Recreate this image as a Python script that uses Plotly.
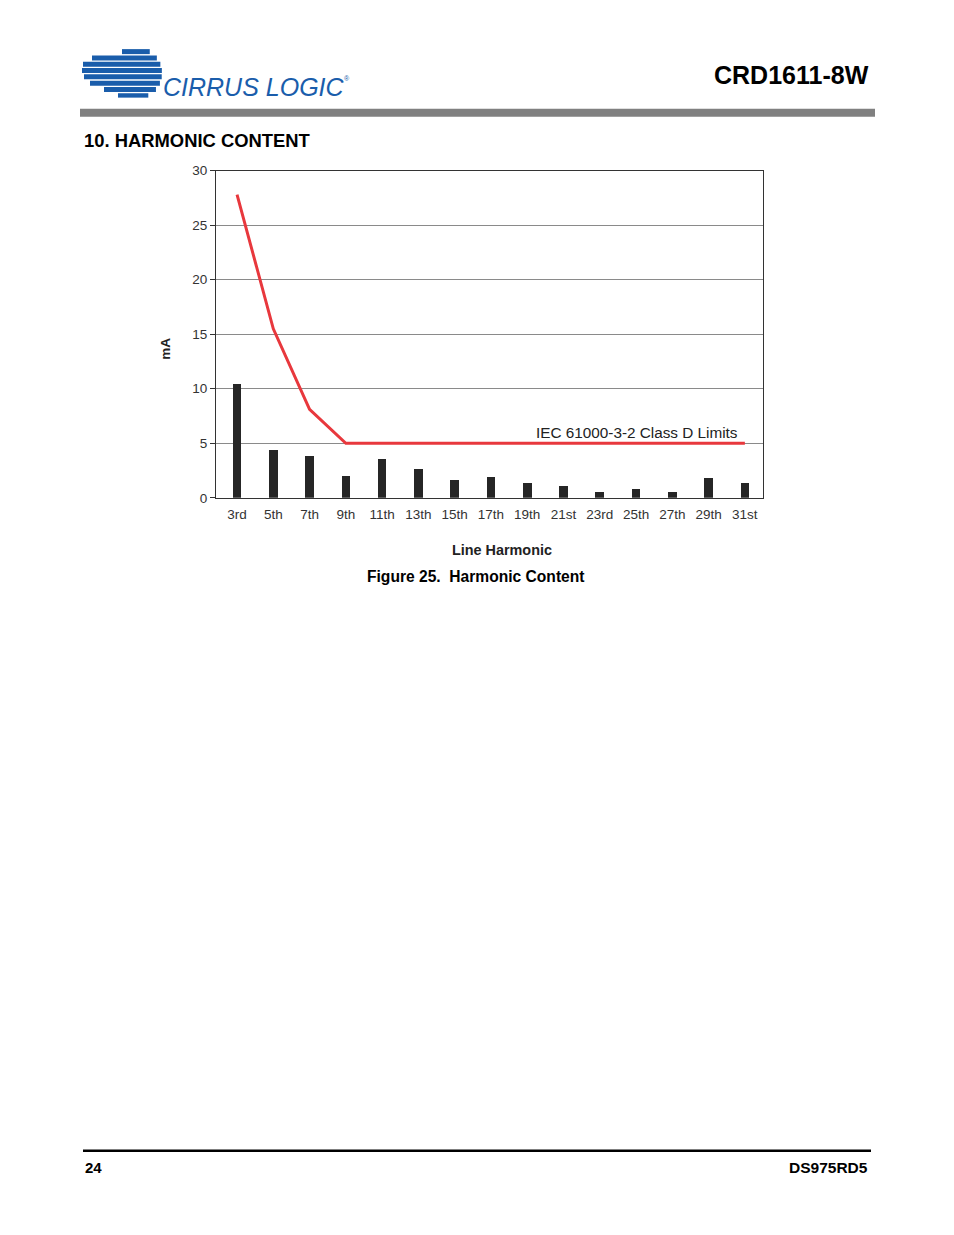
import math
import plotly.graph_objects as go

harmonics = ["3rd", "5th", "7th", "9th", "11th", "13th", "15th", "17th",
             "19th", "21st", "23rd", "25th", "27th", "29th", "31st"]
measured_ma = [10.5, 4.4, 3.85, 2.0, 3.6, 2.65, 1.65, 1.9, 1.4, 1.1, 0.6, 0.8, 0.6, 1.8, 1.4]
limit_ma = [27.8, 15.5, 8.1, 5.0, 5.0, 5.0, 5.0, 5.0, 5.0, 5.0, 5.0, 5.0, 5.0, 5.0, 5.0]
y_ticks = [0, 5, 10, 15, 20, 25, 30]

W, H = 954, 1235
FONT = "Arial, Liberation Sans, sans-serif"


def px(x):
    return x / W


def py(y):
    # small empirical correction for the vertical placement seen in the capture
    yy = (y - 6.4) / 0.9875
    return 1 - yy / H


fig = go.Figure()
fig.add_trace(go.Bar(x=harmonics, y=measured_ma, width=0.24,
                     marker=dict(color="#262626", line=dict(width=0)),
                     showlegend=False))
fig.add_trace(go.Scatter(x=harmonics, y=limit_ma, mode="lines",
                         line=dict(color="#e8383d", width=3),
                         showlegend=False))

shapes = []
# Header gray bar
shapes.append(dict(type="rect", xref="paper", yref="paper",
                   x0=px(80), x1=px(875), y0=py(116), y1=py(108),
                   fillcolor="#808080", line=dict(width=0)))
# Footer line
shapes.append(dict(type="rect", xref="paper", yref="paper",
                   x0=px(83), x1=px(871), y0=py(1151), y1=py(1148.5),
                   fillcolor="#000000", line=dict(width=0)))

# Logo (decorative): blue disc cut by thin white gaps, streaks to the left
blue = "#1a5dab"
cx, cy, r = 137.0, 72.5, 25.0
bands = [(48.5, 53.5, 122), (54.8, 59.8, 92), (61.1, 66.1, 83), (67.4, 72.4, 82),
         (73.7, 78.7, 84), (80.0, 85.0, 90), (86.3, 91.3, 104), (92.6, 97.0, 118)]
for (t, b, left) in bands:
    mid = (t + b) / 2
    dy = min(abs(mid - cy), r - 0.5)
    right = cx + math.sqrt(r * r - dy * dy)
    shapes.append(dict(type="rect", xref="paper", yref="paper",
                       x0=px(left), x1=px(right), y0=py(b), y1=py(t),
                       fillcolor=blue, line=dict(width=0)))

annotations = [
    dict(text="<i>CIRRUS LOGIC</i>", x=px(161), y=py(86), xref="paper", yref="paper",
         xanchor="left", yanchor="middle", showarrow=False,
         font=dict(family=FONT, size=25, color=blue)),
    dict(text="®", x=px(342), y=py(78), xref="paper", yref="paper",
         xanchor="left", yanchor="middle", showarrow=False,
         font=dict(family=FONT, size=7, color=blue)),
    dict(text="<b>CRD1611-8W</b>", x=px(871), y=py(74), xref="paper", yref="paper",
         xanchor="right", yanchor="middle", showarrow=False,
         font=dict(family=FONT, size=25, color="#000")),
    dict(text="<b>10. HARMONIC CONTENT</b>", x=px(82), y=py(140), xref="paper", yref="paper",
         xanchor="left", yanchor="middle", showarrow=False,
         font=dict(family=FONT, size=18.4, color="#000")),
    dict(text="<b>mA</b>", x=px(166), y=py(348), xref="paper", yref="paper",
         xanchor="center", yanchor="middle", showarrow=False, textangle=-90,
         font=dict(family=FONT, size=13.5, color="#222")),
    dict(text="<b>Line Harmonic</b>", x=px(502), y=py(549), xref="paper", yref="paper",
         xanchor="center", yanchor="middle", showarrow=False,
         font=dict(family=FONT, size=14.4, color="#222")),
    dict(text="<b>Figure 25.  Harmonic Content</b>", x=px(475), y=py(576), xref="paper", yref="paper",
         xanchor="center", yanchor="middle", showarrow=False,
         font=dict(family=FONT, size=15.6, color="#000")),
    dict(text="IEC 61000-3-2 Class D Limits", x=px(740), y=py(432), xref="paper", yref="paper",
         xanchor="right", yanchor="middle", showarrow=False,
         font=dict(family=FONT, size=15.3, color="#222")),
    dict(text="<b>24</b>", x=px(83), y=py(1166), xref="paper", yref="paper",
         xanchor="left", yanchor="middle", showarrow=False,
         font=dict(family=FONT, size=15, color="#000")),
    dict(text="<b>DS975RD5</b>", x=px(870), y=py(1166), xref="paper", yref="paper",
         xanchor="right", yanchor="middle", showarrow=False,
         font=dict(family=FONT, size=15.5, color="#000")),
]

fig.update_layout(
    width=W, height=H,
    margin=dict(l=0, r=0, t=0, b=0),
    paper_bgcolor="white", plot_bgcolor="white",
    font=dict(family=FONT, size=13, color="#333"),
    shapes=shapes, annotations=annotations,
    bargap=0,
    xaxis=dict(domain=[px(216), px(763)], type="category", range=[-0.58, 14.5],
               showline=True, linecolor="#333", linewidth=1, mirror=True,
               ticks="", showgrid=False, tickfont=dict(size=13.5, color="#333"),
               ticklabelstandoff=4),
    yaxis=dict(domain=[py(497), py(170)], range=[0, 30], tickvals=y_ticks,
               showline=True, linecolor="#333", linewidth=1, mirror=True,
               ticks="outside", ticklen=5, tickcolor="#333",
               showgrid=True, gridcolor="#8a8a8a", gridwidth=1,
               zeroline=False, tickfont=dict(size=13.5, color="#333")),
)

fig.write_html("out.html", config={"displayModeBar": False},
               post_script="document.body.style.margin='0';document.body.style.padding='0';document.body.style.overflow='hidden';")
